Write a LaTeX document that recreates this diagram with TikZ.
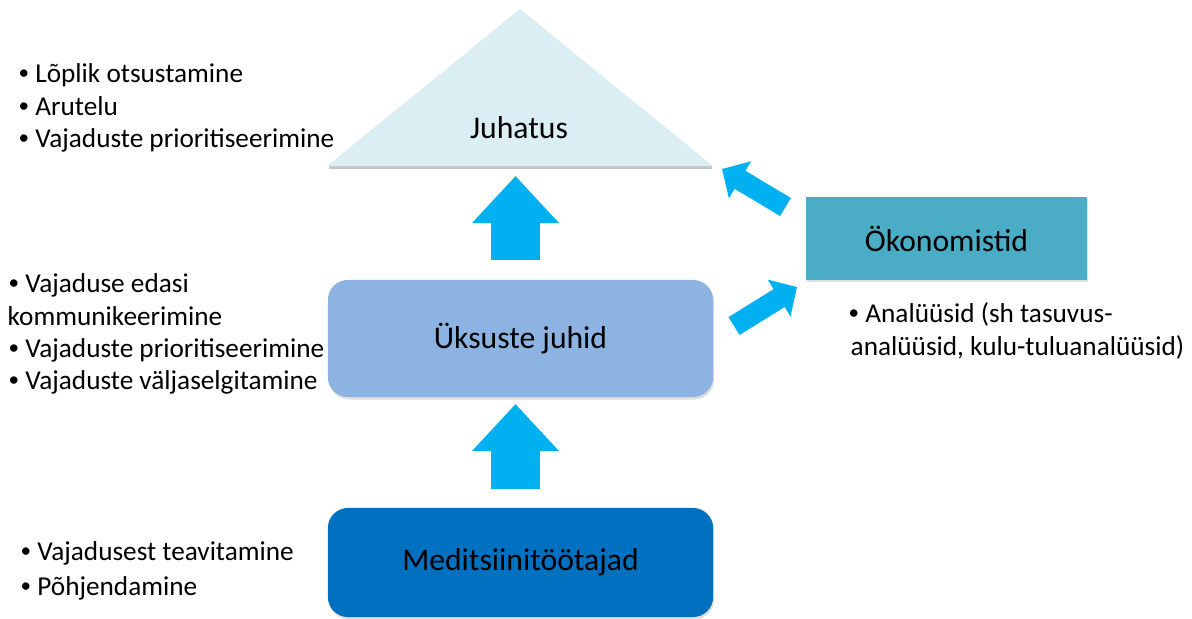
\documentclass[tikz,border=0pt]{standalone}
\usepackage{fontspec}
\setmainfont{Carlito}
\usetikzlibrary{arrows.meta,shadows}
\definecolor{juhcol}{HTML}{DAEEF3}
\definecolor{ukscol}{HTML}{8DB3E2}
\definecolor{medcol}{HTML}{0070C0}
\definecolor{okocol}{HTML}{4BACC6}
\definecolor{arrcol}{HTML}{00B0F0}
\newcommand{\bul}{\raisebox{0.7pt}{\fontsize{6}{6}\selectfont •}}

\begin{document}
\begin{tikzpicture}[x=0.01cm, y=-0.01cm,
	box/.style = {rounded corners=0.2cm, minimum width=3.85cm, font=\fontsize{9}{11}\selectfont,
		drop shadow={opacity=0.25, shadow xshift=0.3pt, shadow yshift=-0.7pt}},
	note/.style = {anchor=base west, inner sep=0pt, font=\fontsize{7.75}{9}\selectfont},
	bigarrow/.style = {draw=arrcol, line width=0.49cm, -{Triangle[length=0.47cm, width=0.84cm]}},
	smallarrow/.style = {draw=arrcol, line width=0.21cm, -{Triangle[length=0.21cm, width=0.42cm]}}]
	\useasboundingbox (0,0) rectangle (1192,618);
	
	% Juhatus triangle
	\draw[gray!45, line width=1pt] (329,167.5) -- (712,167.5);
	\fill[juhcol] (327,166) coordinate (jl) -- (520,9) coordinate (jt) -- (713,166) coordinate (jr) -- cycle;
	\node[font=\fontsize{9}{11}\selectfont] (juh) at (519,128) {Juhatus};
	
	\node[box, fill=ukscol, minimum height=1.17cm] (uks) at (520.5,338.5) {Üksuste juhid};
	\node[box, fill=medcol, minimum height=1.09cm] (med) at (520.5,562.5) {Meditsiinitöötajad};
	\node[box, fill=okocol, rounded corners=0pt, minimum width=2.81cm, minimum height=0.83cm] (oko) at (946.5,238.5) {Ökonomistid};
	
	% arrow ends
	\coordinate (a1s) at (515.5,260);
	\coordinate (a1e) at (515.5,176);
	\coordinate (a2s) at (515.5,489);
	\coordinate (a2e) at (515.5,404);
	\coordinate (a3s) at (734,326);
	\coordinate (a3e) at (797,287);
	\coordinate (a4s) at (785.5,207);
	\coordinate (a4e) at (722,169);
	
	\draw[bigarrow] (a1s) -- (a1e);
	\draw[bigarrow] (a2s) -- (a2e);
	\draw[smallarrow] (a3s) -- (a3e);
	\draw[smallarrow] (a4s) -- (a4e);
	
	% notes
	\node[note] (n1) at (18,82) {\bul{} Lõplik otsustamine};
	\node[note] (n2) at (18,115) {\bul{} Arutelu};
	\node[note] (n3) at (18,147) {\bul{} Vajaduste prioritiseerimine};
	
	\node[note] (n4) at (8,292) {\bul{} Vajaduse edasi};
	\node[note] (n5) at (7,325) {kommunikeerimine};
	\node[note] (n6) at (8,357) {\bul{} Vajaduste prioritiseerimine};
	\node[note] (n7) at (8,389) {\bul{} Vajaduste väljaselgitamine};
	
	\node[note] (n8) at (20,560) {\bul{} Vajadusest teavitamine};
	\node[note] (n9) at (20,595) {\bul{} Põhjendamine};
	
	\node[note] (n10) at (848,322) {\bul{} Analüüsid (sh tasuvus-};
	\node[note] (n11) at (850,355) {analüüsid, kulu-tuluanalüüsid)};
	
\end{tikzpicture}
\end{document}
